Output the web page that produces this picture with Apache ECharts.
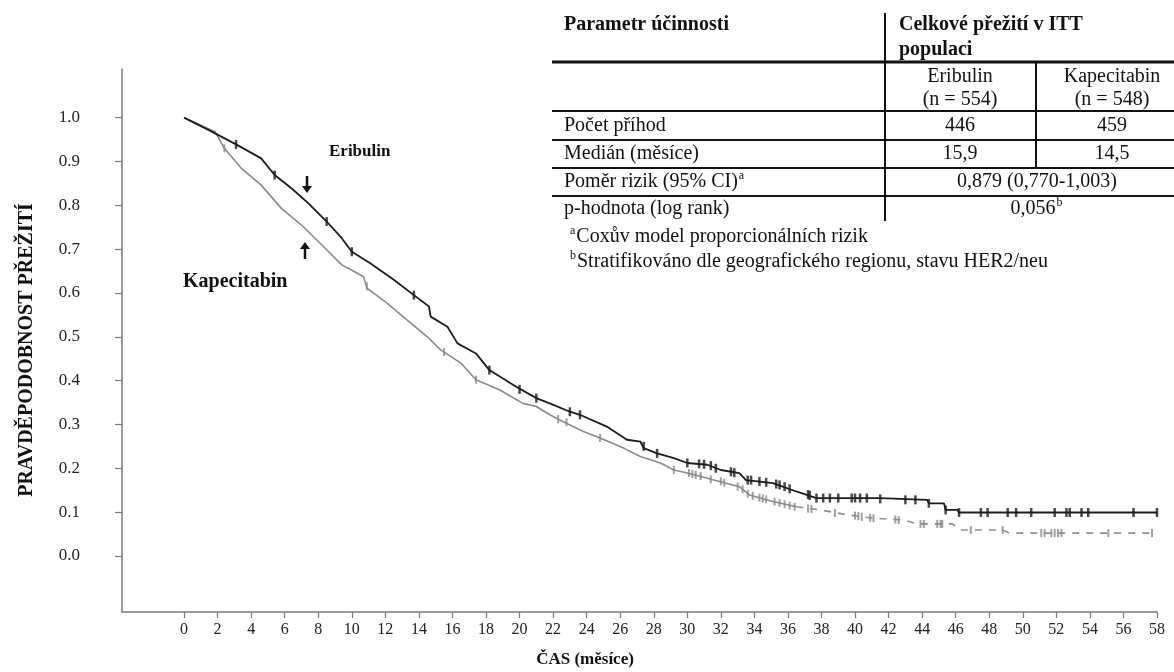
<!DOCTYPE html>
<html>
<head>
<meta charset="utf-8">
<title>Celkové přežití</title>
<script src="https://cdn.jsdelivr.net/npm/echarts@6/dist/echarts.min.js"></script>
<style>
    html, body { margin: 0; padding: 0; background: #fff; }
    #main { width: 1174px; height: 672px; }
</style>
</head>
<body>
<div id="main"></div>
<script>
// osy
var xTicks = [0, 2, 4, 6, 8, 10, 12, 14, 16, 18, 20, 22, 24, 26, 28, 30, 32, 34, 36, 38, 40, 42, 44, 46, 48, 50, 52, 54, 56, 58];
var yTicks = [0, 0.1, 0.2, 0.3, 0.4, 0.5, 0.6, 0.7, 0.8, 0.9, 1.0];

// Eribulin - Kaplan-Meier krivka (mesice, pravdepodobnost)
var eribulinT = [0, 1.45, 3.1, 4.6, 5.4, 6.4, 7.4, 8.5, 9.4, 10.0, 11.1, 12.5, 13.7, 14.6, 14.7, 15.7, 16.3, 17.4, 18.2, 19.8,
    21.0, 21.8, 23.0, 23.6, 25.2, 26.4, 27.2, 27.4, 28.2, 29.2, 30.0, 31.2, 32.0, 33.1, 33.5, 35.1, 36.5, 37.7,
    41.5, 41.6, 44.3, 44.4, 45.3, 45.4, 46.1, 46.2, 58];
var eribulinS = [1.0, 0.972, 0.939, 0.907, 0.869, 0.839, 0.805, 0.763, 0.725, 0.694, 0.668, 0.630, 0.595, 0.569, 0.546, 0.523, 0.485, 0.462, 0.424, 0.386,
    0.360, 0.348, 0.329, 0.322, 0.295, 0.265, 0.261, 0.246, 0.234, 0.223, 0.212, 0.208, 0.196, 0.189, 0.173, 0.166, 0.147, 0.132,
    0.132, 0.128, 0.128, 0.120, 0.120, 0.105, 0.105, 0.099, 0.099];

// Kapecitabin - plna cast a prerusovana cast
var kapecitabinT = [0, 1.85, 2.4, 3.4, 4.6, 5.8, 7.0, 8.2, 9.4, 9.9, 10.7, 10.9, 12.1, 13.3, 14.5, 15.3, 16.5, 17.4, 18.8, 20.2,
    21.0, 21.8, 22.4, 23.8, 24.8, 26.2, 27.2, 28.4, 29.2, 30.0, 31.2, 32.3, 33.1, 33.7, 35.1, 36.5];
var kapecitabinS = [1.0, 0.968, 0.930, 0.885, 0.846, 0.793, 0.755, 0.710, 0.664, 0.654, 0.637, 0.611, 0.577, 0.538, 0.500, 0.470, 0.440, 0.402, 0.379, 0.348,
    0.341, 0.322, 0.310, 0.284, 0.269, 0.246, 0.227, 0.212, 0.196, 0.189, 0.177, 0.166, 0.158, 0.139, 0.124, 0.112];
var kapecitabinTailT = [36.5, 37.9, 39.5, 41.1, 42.9, 43.7, 45.8, 46.3, 48.8, 49.2, 57.7];
var kapecitabinTailS = [0.112, 0.105, 0.094, 0.086, 0.082, 0.073, 0.073, 0.059, 0.059, 0.052, 0.052];

// cenzurovana pozorovani
var eribulinCensorT = [3.1, 5.4, 8.5, 10.0, 13.7, 18.2, 20.0, 21.0, 23.0, 23.6, 27.4, 28.2, 30.0, 30.7, 31.0, 31.4, 31.7, 32.6, 32.8,
    33.6, 33.8, 34.3, 34.7, 35.3, 35.5, 35.8, 36.1, 37.2, 37.3, 37.7, 38.1, 38.5, 39.0, 39.8, 40.0, 40.3, 40.7, 41.5, 43.0, 43.6,
    44.4, 45.4, 46.2, 47.5, 47.9, 49.1, 49.6, 50.5, 51.9, 52.6, 52.8, 53.5, 53.9, 56.6, 58];
var eribulinCensorS = [0.939, 0.869, 0.763, 0.694, 0.595, 0.424, 0.380, 0.360, 0.329, 0.322, 0.250, 0.234, 0.212, 0.210, 0.209, 0.206, 0.200, 0.192, 0.190,
    0.173, 0.173, 0.170, 0.168, 0.164, 0.162, 0.158, 0.153, 0.140, 0.138, 0.132, 0.132, 0.132, 0.132, 0.132, 0.132, 0.132, 0.132, 0.130, 0.128, 0.128,
    0.120, 0.105, 0.099, 0.099, 0.099, 0.099, 0.099, 0.099, 0.099, 0.099, 0.099, 0.099, 0.099, 0.099, 0.099];
var kapecitabinCensorT = [2.4, 10.9, 15.5, 17.4, 22.3, 22.8, 24.8, 29.2, 30.1, 30.3, 30.5, 30.8, 31.4, 32.0, 32.2, 33.0, 33.3, 33.6, 33.9,
    34.3, 34.5, 34.7, 35.2, 35.5, 35.8, 36.1, 36.4, 37.2, 37.4, 38.8, 40.0, 40.2, 40.4, 40.9, 41.1, 42.4, 42.6, 43.9, 44.1,
    44.9, 45.1, 45.2, 46.9, 48.8, 51.1, 51.3, 51.7, 51.9, 52.1, 52.3, 55.1, 57.7];
var kapecitabinCensorS = [0.930, 0.615, 0.465, 0.402, 0.312, 0.305, 0.269, 0.196, 0.189, 0.187, 0.185, 0.182, 0.175, 0.170, 0.167, 0.158, 0.152, 0.142, 0.137,
    0.133, 0.131, 0.129, 0.124, 0.121, 0.118, 0.115, 0.112, 0.108, 0.107, 0.098, 0.092, 0.091, 0.089, 0.087, 0.086, 0.083, 0.082, 0.073, 0.073,
    0.073, 0.073, 0.073, 0.059, 0.059, 0.052, 0.052, 0.052, 0.052, 0.052, 0.052, 0.052, 0.052];

// tabulka
var tableHead = ['Parametr účinnosti', 'Celkové přežití v ITT', 'populaci'];
var armNames = ['Eribulin', 'Kapecitabin'];
var armSizes = ['(n = 554)', '(n = 548)'];
var rowLabels = ['Počet příhod', 'Medián (měsíce)', 'Poměr rizik (95% CI)', 'p-hodnota (log rank)'];
var eventCounts = ['446', '459'];
var medianMonths = ['15,9', '14,5'];
var hazardRatio = '0,879 (0,770-1,003)';
var pValue = '0,056';
var footnotes = ['Coxův model proporcionálních rizik', 'Stratifikováno dle geografického regionu, stavu HER2/neu'];

(function() {
    var SERIF = '"Liberation Serif", "Times New Roman", serif';
    var chart = echarts.init(document.getElementById('main'));
    var ctx = document.createElement('canvas').getContext('2d');

    function pairs(t, s) {
        return t.map(function(v, i) { return [v, s[i]]; });
    }
    function textWidth(str, size, weight) {
        ctx.font = (weight || 'normal') + ' ' + size + 'px ' + SERIF;
        return ctx.measureText(str).width;
    }
    function txt(str, x, y, opt) {
        opt = opt || {};
        return {
            type: 'text', x: x, y: y, silent: true, z: 10,
            style: {
                text: str,
                fill: opt.fill || '#111',
                font: (opt.weight || 'normal') + ' ' + (opt.size || 20) + 'px ' + SERIF,
                align: opt.align || 'left',
                verticalAlign: 'middle'
            },
            rotation: opt.rotation || 0
        };
    }
    function line(x1, y1, x2, y2, w) {
        return {
            type: 'line', silent: true, z: 10,
            shape: { x1: x1, y1: y1, x2: x2, y2: y2 },
            style: { stroke: '#111', lineWidth: w || 2 }
        };
    }
    // sipka: dir 1 = dolu, -1 = nahoru
    function arrow(x, yTail, yHead, dir) {
        return [line(x, yTail, x, yHead - dir * 5, 2.5), {
            type: 'polygon', silent: true, z: 10,
            shape: { points: [[x - 5, yHead - dir * 7], [x + 5, yHead - dir * 7], [x, yHead]] },
            style: { fill: '#111' }
        }];
    }
    // text s horním indexem
    function supText(main, sup, x, y, align, supFirst) {
        var w = textWidth(main, 20);
        var sw = textWidth(sup, 12);
        var left = align === 'center' ? x - (w + sw) / 2 : x;
        if (supFirst) {
            return [txt(sup, left, y - 6, { size: 12 }), txt(main, left + sw + 1, y)];
        }
        return [txt(main, left, y), txt(sup, left + w + 1, y - 6, { size: 12 })];
    }

    var colX = [960, 1112];
    var g = [];
    // tabulka
    g.push(txt(tableHead[0], 564, 25, { weight: 'bold' }));
    g.push(txt(tableHead[1], 899, 25, { weight: 'bold' }));
    g.push(txt(tableHead[2], 899, 50, { weight: 'bold' }));
    g.push(line(885, 13, 885, 221, 2));
    g.push(line(552, 62, 1174, 62, 3));
    g.push(line(1036, 62, 1036, 168, 2));
    [111, 140, 168, 196].forEach(function(y) { g.push(line(552, y, 1174, y, 2)); });
    armNames.forEach(function(n, i) {
        g.push(txt(n, colX[i], 77, { align: 'center' }));
        g.push(txt(armSizes[i], colX[i], 100, { align: 'center' }));
        g.push(txt(eventCounts[i], colX[i], 126, { align: 'center' }));
        g.push(txt(medianMonths[i], colX[i], 154, { align: 'center' }));
    });
    var rowY = [126, 154, 182, 209];
    g.push(txt(rowLabels[0], 564, rowY[0]));
    g.push(txt(rowLabels[1], 564, rowY[1]));
    g = g.concat(supText(rowLabels[2], 'a', 564, rowY[2], 'left'));
    g.push(txt(rowLabels[3], 564, rowY[3]));
    g.push(txt(hazardRatio, 1037, rowY[2], { align: 'center' }));
    g = g.concat(supText(pValue, 'b', 1036, rowY[3], 'center'));
    g = g.concat(supText(footnotes[0], 'a', 570, 237, 'left', true));
    g = g.concat(supText(footnotes[1], 'b', 570, 262, 'left', true));

    // popisky krivek
    g.push(txt('Eribulin', 329, 152, { weight: 'bold', size: 17 }));
    g = g.concat(arrow(307, 176, 193, 1));
    g = g.concat(arrow(305, 259, 242, -1));
    g.push(txt('Kapecitabin', 183, 282, { weight: 'bold', size: 20 }));

    // nazvy os
    g.push(txt('ČAS (měsíce)', 585, 660, { weight: 'bold', size: 17, align: 'center' }));
    var yTitle = txt('PRAVDĚPODOBNOST PŘEŽITÍ', 27, 350, { weight: 'bold', size: 20, align: 'center' });
    yTitle.rotation = Math.PI / 2;
    g.push(yTitle);

    var axisGray = '#7a7a7a';
    var option = {
        animation: false,
        backgroundColor: '#fff',
        grid: { left: 122, right: 17, top: 69, bottom: 60, containLabel: false },
        xAxis: {
            type: 'value',
            min: -3.7,
            max: 58,
            splitLine: { show: false },
            axisLine: { onZero: false, lineStyle: { color: axisGray, width: 1.5 } },
            axisTick: { customValues: xTicks, length: 6, lineStyle: { color: axisGray, width: 1.2 } },
            axisLabel: {
                customValues: xTicks,
                margin: 10,
                color: '#222',
                fontFamily: SERIF,
                fontSize: 16
            }
        },
        yAxis: {
            type: 'value',
            min: -0.128,
            max: 1.111,
            splitLine: { show: false },
            axisLine: { onZero: false, lineStyle: { color: axisGray, width: 1.5 } },
            axisTick: { customValues: yTicks, length: 7, lineStyle: { color: axisGray, width: 1.2 } },
            axisLabel: {
                customValues: yTicks,
                margin: 42,
                color: '#222',
                fontFamily: SERIF,
                fontSize: 17,
                formatter: function(v) { return v.toFixed(1); }
            }
        },
        series: [{
            name: 'Kapecitabin',
            type: 'line',
            data: pairs(kapecitabinT, kapecitabinS),
            symbol: 'none',
            lineStyle: { color: '#8a8a8a', width: 1.6 },
            z: 2
        }, {
            name: 'Kapecitabin (konec)',
            type: 'line',
            data: pairs(kapecitabinTailT, kapecitabinTailS),
            symbol: 'none',
            lineStyle: { color: '#8f8f8f', width: 1.6, type: [7, 7] },
            z: 2
        }, {
            name: 'Kapecitabin cenzura',
            type: 'scatter',
            data: pairs(kapecitabinCensorT, kapecitabinCensorS),
            symbol: 'rect',
            symbolSize: [2, 8],
            itemStyle: { color: '#888' },
            z: 3
        }, {
            name: 'Eribulin',
            type: 'line',
            data: pairs(eribulinT, eribulinS),
            symbol: 'none',
            lineStyle: { color: '#1c1c1c', width: 1.8 },
            z: 4
        }, {
            name: 'Eribulin cenzura',
            type: 'scatter',
            data: pairs(eribulinCensorT, eribulinCensorS),
            symbol: 'rect',
            symbolSize: [2.5, 9],
            itemStyle: { color: '#1c1c1c' },
            z: 5
        }],
        graphic: g
    };
    chart.setOption(option);
})();
</script>
</body>
</html>
